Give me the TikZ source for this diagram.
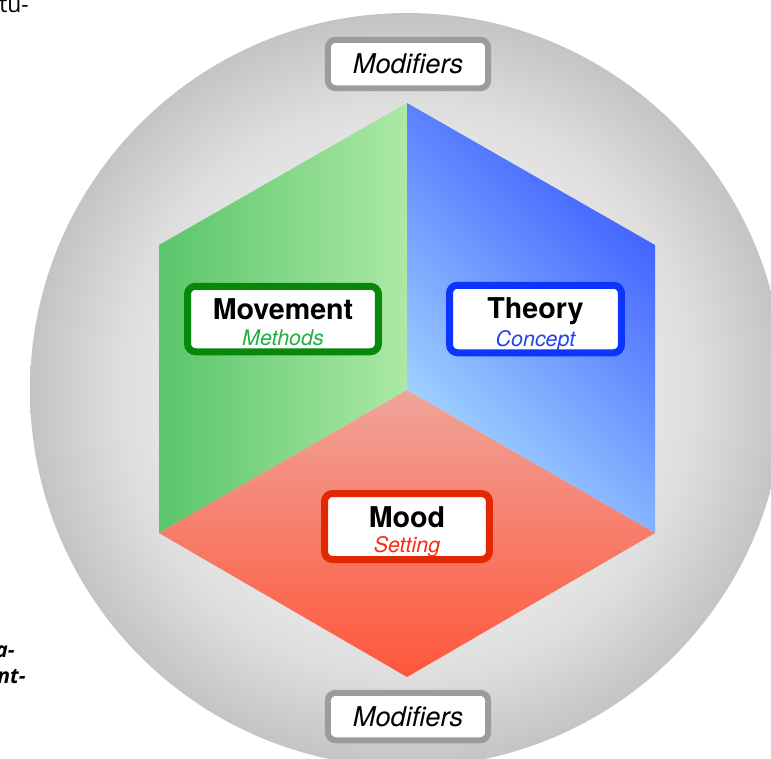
\documentclass[tikz,border=0pt]{standalone}
\usepackage{fontspec}
\setmainfont{TeX Gyre Heros}
\newfontfamily\pagefont{Open Sans}
\usetikzlibrary{positioning}

\definecolor{ringin}{RGB}{250,250,250}
\definecolor{ringmid}{RGB}{238,238,238}
\definecolor{ringdim}{RGB}{222,222,222}
\definecolor{ringout}{RGB}{196,196,196}
\definecolor{greenL}{RGB}{90,197,106}
\definecolor{greenR}{RGB}{172,233,166}
\definecolor{blueL}{RGB}{168,220,255}
\definecolor{blueD}{RGB}{58,88,255}
\definecolor{redT}{RGB}{240,164,154}
\definecolor{redB}{RGB}{255,86,58}
\definecolor{greenB}{RGB}{8,136,8}
\definecolor{greenT}{RGB}{30,176,64}
\definecolor{blueB}{RGB}{12,52,255}
\definecolor{blueT}{RGB}{34,68,238}
\definecolor{redBd}{RGB}{226,40,0}
\definecolor{redTx}{RGB}{255,40,16}
\definecolor{grayB}{RGB}{156,156,156}

\pgfdeclareradialshading{ringshade}{\pgfpoint{0bp}{0bp}}{color(0bp)=(ringin); color(12bp)=(ringmid); color(19bp)=(ringdim); color(25bp)=(ringout); color(50bp)=(ringout)}

\newcommand{\headfont}{\fontsize{16.3}{16.3}\selectfont\bfseries}
\newcommand{\subfont}{\fontsize{12.2}{14.7}\selectfont\itshape}
\newcommand{\toproom}{\rule{0pt}{15.3pt}}

\tikzset{
  tag/.style={draw, fill=white, line width=0.14cm, rounded corners=0.16cm,
    align=center, inner sep=0pt, text depth=0pt},
  modtag/.style={tag, draw=grayB, line width=0.12cm, minimum width=3.21cm,
    font=\fontsize{15.5}{15.5}\selectfont\itshape},
  pagetxt/.style={inner sep=0pt, font=\pagefont\fontsize{13}{13}\selectfont}
}

\begin{document}
\begin{tikzpicture}[x=0.02cm,y=-0.02cm]
\useasboundingbox (0,0) rectangle (771,758);

% cut-off words of the page text
\node[pagetxt, anchor=base west] (cuttop) at (-1,12) {tu-};
\node[pagetxt, font=\pagefont\fontsize{12}{12}\selectfont\bfseries\itshape, anchor=base east] (cutmid) at (15,657) {a-};
\node[pagetxt, font=\pagefont\fontsize{12}{12}\selectfont\bfseries\itshape, anchor=base east] (cutlow) at (26,683) {nt-};

% sphere behind the cube
\shade[shading=ringshade] (407,390) circle (377);

% cube corners
\coordinate (hxtop) at (407,103);
\coordinate (hxul) at (159,245);
\coordinate (hxll) at (159,533);
\coordinate (hxbot) at (407,677);
\coordinate (hxlr) at (655,533);
\coordinate (hxur) at (655,245);
\coordinate (hxmid) at (407,390);

\shade[left color=greenL, right color=greenR] (hxtop) -- (hxul) -- (hxll) -- (hxmid) -- cycle;
\shade[top color=blueD, bottom color=blueL, shading angle=-45] (hxtop) -- (hxur) -- (hxlr) -- (hxmid) -- cycle;
\shade[top color=redT, bottom color=redB] (hxmid) -- (hxlr) -- (hxbot) -- (hxll) -- cycle;

% labels
\node[modtag, minimum height=0.97cm] (modtop) at (408,64) {Modifiers};
\node[modtag, minimum height=0.95cm] (modbot) at (408,716.5) {Modifiers};

\node[tag, draw=greenB, minimum width=3.82cm, minimum height=1.31cm] (movement) at (283,319)
  {{\headfont\toproom Movement}\\[2.7pt]{\subfont\color{greenT}Methods}};
\node[tag, draw=blueB, minimum width=3.44cm, minimum height=1.35cm] (theory) at (535.5,319)
  {{\headfont\toproom Theory}\\[2.7pt]{\subfont\color{blueT}Concept}};
\node[tag, draw=redBd, minimum width=3.30cm, minimum height=1.32cm] (mood) at (407,526.5)
  {{\headfont\toproom Mood}\\[2.7pt]{\subfont\color{redTx}Setting}};
\end{tikzpicture}
\end{document}
